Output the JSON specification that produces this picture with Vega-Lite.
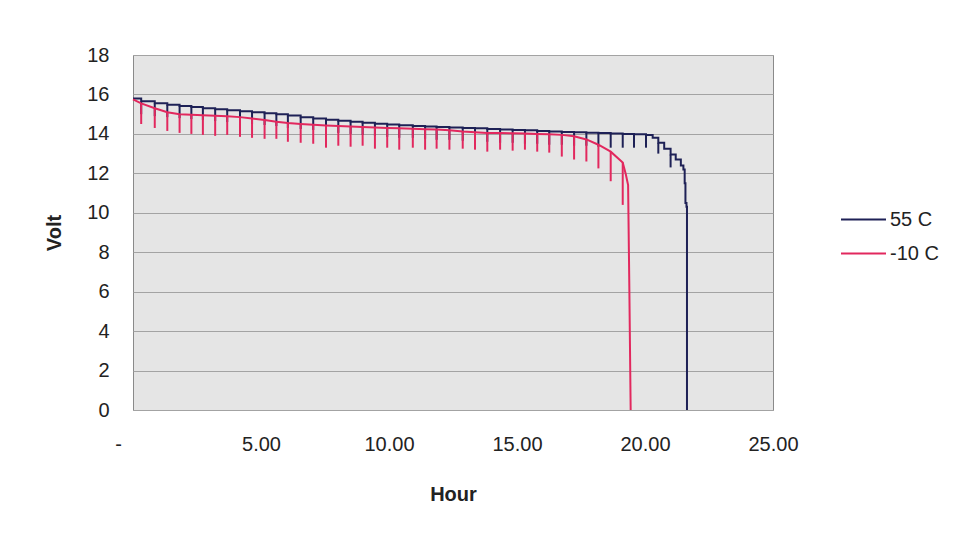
{
  "$schema": "https://vega.github.io/schema/vega-lite/v6.json",
  "autosize": "none",
  "width": 640,
  "height": 355,
  "padding": {"left": 133, "top": 55, "right": 191, "bottom": 127},
  "background": "white",
  "config": {
    "font": "Liberation Sans",
    "view": {"fill": "#e5e5e5", "stroke": "#8a8a8a", "strokeWidth": 1},
    "axis": {"labelFont": "Liberation Sans", "titleFont": "Liberation Sans", "labelColor": "#222", "titleColor": "#222"}
  },
  "datasets": {
    "levels": [
      {"series": "55 C", "hour": 0, "volt": 15.8},
      {"series": "55 C", "hour": 0.32, "volt": 15.65},
      {"series": "55 C", "hour": 0.85, "volt": 15.55},
      {"series": "55 C", "hour": 1.34, "volt": 15.48},
      {"series": "55 C", "hour": 1.82, "volt": 15.42},
      {"series": "55 C", "hour": 2.28, "volt": 15.36},
      {"series": "55 C", "hour": 2.73, "volt": 15.3},
      {"series": "55 C", "hour": 3.21, "volt": 15.25},
      {"series": "55 C", "hour": 3.68, "volt": 15.2},
      {"series": "55 C", "hour": 4.18, "volt": 15.15},
      {"series": "55 C", "hour": 4.65, "volt": 15.1},
      {"series": "55 C", "hour": 5.14, "volt": 15.05},
      {"series": "55 C", "hour": 5.6, "volt": 15.0},
      {"series": "55 C", "hour": 6.05, "volt": 14.93},
      {"series": "55 C", "hour": 6.55, "volt": 14.85},
      {"series": "55 C", "hour": 7.04, "volt": 14.78},
      {"series": "55 C", "hour": 7.54, "volt": 14.72},
      {"series": "55 C", "hour": 8.02, "volt": 14.66},
      {"series": "55 C", "hour": 8.5, "volt": 14.62},
      {"series": "55 C", "hour": 8.97, "volt": 14.57},
      {"series": "55 C", "hour": 9.45, "volt": 14.52},
      {"series": "55 C", "hour": 9.93, "volt": 14.48},
      {"series": "55 C", "hour": 10.4, "volt": 14.44},
      {"series": "55 C", "hour": 10.93, "volt": 14.4},
      {"series": "55 C", "hour": 11.41, "volt": 14.37},
      {"series": "55 C", "hour": 11.86, "volt": 14.35},
      {"series": "55 C", "hour": 12.36, "volt": 14.33},
      {"series": "55 C", "hour": 12.88, "volt": 14.3},
      {"series": "55 C", "hour": 13.36, "volt": 14.28},
      {"series": "55 C", "hour": 13.84, "volt": 14.25},
      {"series": "55 C", "hour": 14.34, "volt": 14.22},
      {"series": "55 C", "hour": 14.83, "volt": 14.2},
      {"series": "55 C", "hour": 15.31, "volt": 14.18},
      {"series": "55 C", "hour": 15.79, "volt": 14.15},
      {"series": "55 C", "hour": 16.26, "volt": 14.12},
      {"series": "55 C", "hour": 16.75, "volt": 14.1},
      {"series": "55 C", "hour": 17.23, "volt": 14.08},
      {"series": "55 C", "hour": 17.71, "volt": 14.06},
      {"series": "55 C", "hour": 18.18, "volt": 14.04},
      {"series": "55 C", "hour": 18.66, "volt": 14.02},
      {"series": "55 C", "hour": 19.13, "volt": 14.0},
      {"series": "55 C", "hour": 19.57, "volt": 13.98},
      {"series": "55 C", "hour": 20.04, "volt": 13.95},
      {"series": "55 C", "hour": 20.3, "volt": 13.8},
      {"series": "55 C", "hour": 20.52, "volt": 13.55},
      {"series": "55 C", "hour": 20.75, "volt": 13.25},
      {"series": "55 C", "hour": 21.0, "volt": 12.95},
      {"series": "55 C", "hour": 21.2, "volt": 12.7},
      {"series": "55 C", "hour": 21.4, "volt": 12.4},
      {"series": "55 C", "hour": 21.5, "volt": 12.2},
      {"series": "55 C", "hour": 21.55, "volt": 11.5},
      {"series": "55 C", "hour": 21.58, "volt": 10.5},
      {"series": "55 C", "hour": 21.62, "volt": 10.3},
      {"series": "55 C", "hour": 21.64, "volt": 0},
      {"series": "-10 C", "hour": 0, "volt": 15.75},
      {"series": "-10 C", "hour": 0.32, "volt": 15.55},
      {"series": "-10 C", "hour": 0.85, "volt": 15.3},
      {"series": "-10 C", "hour": 1.34, "volt": 15.1},
      {"series": "-10 C", "hour": 1.82, "volt": 15.0},
      {"series": "-10 C", "hour": 2.28, "volt": 14.97},
      {"series": "-10 C", "hour": 2.73, "volt": 14.95},
      {"series": "-10 C", "hour": 3.21, "volt": 14.92},
      {"series": "-10 C", "hour": 3.68, "volt": 14.9},
      {"series": "-10 C", "hour": 4.18, "volt": 14.85},
      {"series": "-10 C", "hour": 4.65, "volt": 14.78},
      {"series": "-10 C", "hour": 5.14, "volt": 14.7},
      {"series": "-10 C", "hour": 5.6, "volt": 14.62},
      {"series": "-10 C", "hour": 6.05, "volt": 14.55},
      {"series": "-10 C", "hour": 6.55, "volt": 14.5},
      {"series": "-10 C", "hour": 7.04, "volt": 14.46},
      {"series": "-10 C", "hour": 7.54, "volt": 14.43},
      {"series": "-10 C", "hour": 8.02, "volt": 14.4},
      {"series": "-10 C", "hour": 8.5, "volt": 14.37},
      {"series": "-10 C", "hour": 8.97, "volt": 14.35},
      {"series": "-10 C", "hour": 9.45, "volt": 14.33},
      {"series": "-10 C", "hour": 9.93, "volt": 14.3},
      {"series": "-10 C", "hour": 10.4, "volt": 14.28},
      {"series": "-10 C", "hour": 10.93, "volt": 14.26},
      {"series": "-10 C", "hour": 11.41, "volt": 14.24},
      {"series": "-10 C", "hour": 11.86, "volt": 14.22},
      {"series": "-10 C", "hour": 12.36, "volt": 14.18},
      {"series": "-10 C", "hour": 12.88, "volt": 14.12},
      {"series": "-10 C", "hour": 13.36, "volt": 14.08},
      {"series": "-10 C", "hour": 13.84, "volt": 14.05},
      {"series": "-10 C", "hour": 14.34, "volt": 14.04},
      {"series": "-10 C", "hour": 14.83, "volt": 14.03},
      {"series": "-10 C", "hour": 15.31, "volt": 14.02},
      {"series": "-10 C", "hour": 15.79, "volt": 14.0},
      {"series": "-10 C", "hour": 16.26, "volt": 13.98},
      {"series": "-10 C", "hour": 16.75, "volt": 13.95},
      {"series": "-10 C", "hour": 17.23, "volt": 13.88},
      {"series": "-10 C", "hour": 17.71, "volt": 13.72},
      {"series": "-10 C", "hour": 18.18, "volt": 13.45},
      {"series": "-10 C", "hour": 18.66, "volt": 13.1},
      {"series": "-10 C", "hour": 19.13, "volt": 12.55},
      {"series": "-10 C", "hour": 19.25, "volt": 11.95},
      {"series": "-10 C", "hour": 19.34, "volt": 11.4},
      {"series": "-10 C", "hour": 19.39, "volt": 6.0},
      {"series": "-10 C", "hour": 19.44, "volt": 0}
    ],
    "spikes": [
      {"series": "55 C", "hour": 0.32, "volt": 15.65, "bottom": 15.0},
      {"series": "55 C", "hour": 0.85, "volt": 15.55, "bottom": 14.9},
      {"series": "55 C", "hour": 1.34, "volt": 15.48, "bottom": 14.85},
      {"series": "55 C", "hour": 1.82, "volt": 15.42, "bottom": 14.8},
      {"series": "55 C", "hour": 2.28, "volt": 15.36, "bottom": 14.75},
      {"series": "55 C", "hour": 2.73, "volt": 15.3, "bottom": 14.7},
      {"series": "55 C", "hour": 3.21, "volt": 15.25, "bottom": 14.65},
      {"series": "55 C", "hour": 3.68, "volt": 15.2, "bottom": 14.6},
      {"series": "55 C", "hour": 4.18, "volt": 15.15, "bottom": 14.55},
      {"series": "55 C", "hour": 4.65, "volt": 15.1, "bottom": 14.5},
      {"series": "55 C", "hour": 5.14, "volt": 15.05, "bottom": 14.45},
      {"series": "55 C", "hour": 5.6, "volt": 15.0, "bottom": 14.4},
      {"series": "55 C", "hour": 6.05, "volt": 14.93, "bottom": 14.3},
      {"series": "55 C", "hour": 6.55, "volt": 14.85, "bottom": 14.25},
      {"series": "55 C", "hour": 7.04, "volt": 14.78, "bottom": 14.2},
      {"series": "55 C", "hour": 7.54, "volt": 14.72, "bottom": 14.1},
      {"series": "55 C", "hour": 8.02, "volt": 14.66, "bottom": 14.05},
      {"series": "55 C", "hour": 8.5, "volt": 14.62, "bottom": 14.0},
      {"series": "55 C", "hour": 8.97, "volt": 14.57, "bottom": 13.95},
      {"series": "55 C", "hour": 9.45, "volt": 14.52, "bottom": 13.9},
      {"series": "55 C", "hour": 9.93, "volt": 14.48, "bottom": 13.85},
      {"series": "55 C", "hour": 10.4, "volt": 14.44, "bottom": 13.8},
      {"series": "55 C", "hour": 10.93, "volt": 14.4, "bottom": 13.8},
      {"series": "55 C", "hour": 11.41, "volt": 14.37, "bottom": 13.75},
      {"series": "55 C", "hour": 11.86, "volt": 14.35, "bottom": 13.7},
      {"series": "55 C", "hour": 12.36, "volt": 14.33, "bottom": 13.7},
      {"series": "55 C", "hour": 12.88, "volt": 14.3, "bottom": 13.65},
      {"series": "55 C", "hour": 13.36, "volt": 14.28, "bottom": 13.6},
      {"series": "55 C", "hour": 13.84, "volt": 14.25, "bottom": 13.6},
      {"series": "55 C", "hour": 14.34, "volt": 14.22, "bottom": 13.55},
      {"series": "55 C", "hour": 14.83, "volt": 14.2, "bottom": 13.55},
      {"series": "55 C", "hour": 15.31, "volt": 14.18, "bottom": 13.5},
      {"series": "55 C", "hour": 15.79, "volt": 14.15, "bottom": 13.5},
      {"series": "55 C", "hour": 16.26, "volt": 14.12, "bottom": 13.45},
      {"series": "55 C", "hour": 16.75, "volt": 14.1, "bottom": 13.45},
      {"series": "55 C", "hour": 17.23, "volt": 14.08, "bottom": 13.4},
      {"series": "55 C", "hour": 17.71, "volt": 14.06, "bottom": 13.4},
      {"series": "55 C", "hour": 18.18, "volt": 14.04, "bottom": 13.35},
      {"series": "55 C", "hour": 18.66, "volt": 14.02, "bottom": 13.3},
      {"series": "55 C", "hour": 19.13, "volt": 14.0, "bottom": 13.3},
      {"series": "55 C", "hour": 19.57, "volt": 13.98, "bottom": 13.3},
      {"series": "55 C", "hour": 20.04, "volt": 13.95, "bottom": 13.3},
      {"series": "55 C", "hour": 20.52, "volt": 13.55, "bottom": 13.0},
      {"series": "55 C", "hour": 21.0, "volt": 12.95, "bottom": 12.3},
      {"series": "-10 C", "hour": 0.32, "volt": 15.55, "bottom": 14.5},
      {"series": "-10 C", "hour": 0.85, "volt": 15.3, "bottom": 14.3},
      {"series": "-10 C", "hour": 1.34, "volt": 15.1, "bottom": 14.15},
      {"series": "-10 C", "hour": 1.82, "volt": 15.0, "bottom": 14.05},
      {"series": "-10 C", "hour": 2.28, "volt": 14.97, "bottom": 14.0},
      {"series": "-10 C", "hour": 2.73, "volt": 14.95, "bottom": 13.95},
      {"series": "-10 C", "hour": 3.21, "volt": 14.92, "bottom": 13.9},
      {"series": "-10 C", "hour": 3.68, "volt": 14.9, "bottom": 13.95},
      {"series": "-10 C", "hour": 4.18, "volt": 14.85, "bottom": 13.85},
      {"series": "-10 C", "hour": 4.65, "volt": 14.78, "bottom": 13.8},
      {"series": "-10 C", "hour": 5.14, "volt": 14.7, "bottom": 13.75},
      {"series": "-10 C", "hour": 5.6, "volt": 14.62, "bottom": 13.75},
      {"series": "-10 C", "hour": 6.05, "volt": 14.55, "bottom": 13.6},
      {"series": "-10 C", "hour": 6.55, "volt": 14.5, "bottom": 13.55},
      {"series": "-10 C", "hour": 7.04, "volt": 14.46, "bottom": 13.5},
      {"series": "-10 C", "hour": 7.54, "volt": 14.43, "bottom": 13.3},
      {"series": "-10 C", "hour": 8.02, "volt": 14.4, "bottom": 13.4},
      {"series": "-10 C", "hour": 8.5, "volt": 14.37, "bottom": 13.35},
      {"series": "-10 C", "hour": 8.97, "volt": 14.35, "bottom": 13.4},
      {"series": "-10 C", "hour": 9.45, "volt": 14.33, "bottom": 13.25},
      {"series": "-10 C", "hour": 9.93, "volt": 14.3, "bottom": 13.3},
      {"series": "-10 C", "hour": 10.4, "volt": 14.28, "bottom": 13.2},
      {"series": "-10 C", "hour": 10.93, "volt": 14.26, "bottom": 13.3},
      {"series": "-10 C", "hour": 11.41, "volt": 14.24, "bottom": 13.2},
      {"series": "-10 C", "hour": 11.86, "volt": 14.22, "bottom": 13.25},
      {"series": "-10 C", "hour": 12.36, "volt": 14.18, "bottom": 13.2},
      {"series": "-10 C", "hour": 12.88, "volt": 14.12, "bottom": 13.25},
      {"series": "-10 C", "hour": 13.36, "volt": 14.08, "bottom": 13.2},
      {"series": "-10 C", "hour": 13.84, "volt": 14.05, "bottom": 13.1},
      {"series": "-10 C", "hour": 14.34, "volt": 14.04, "bottom": 13.2},
      {"series": "-10 C", "hour": 14.83, "volt": 14.03, "bottom": 13.15},
      {"series": "-10 C", "hour": 15.31, "volt": 14.02, "bottom": 13.2},
      {"series": "-10 C", "hour": 15.79, "volt": 14.0, "bottom": 13.1},
      {"series": "-10 C", "hour": 16.26, "volt": 13.98, "bottom": 13.05},
      {"series": "-10 C", "hour": 16.75, "volt": 13.95, "bottom": 12.85},
      {"series": "-10 C", "hour": 17.23, "volt": 13.88, "bottom": 12.7},
      {"series": "-10 C", "hour": 17.71, "volt": 13.72, "bottom": 12.6},
      {"series": "-10 C", "hour": 18.18, "volt": 13.45, "bottom": 12.25},
      {"series": "-10 C", "hour": 18.66, "volt": 13.1, "bottom": 11.6},
      {"series": "-10 C", "hour": 19.13, "volt": 12.55, "bottom": 10.4}
    ]
  },
  "encoding": {
    "x": {
      "field": "hour", "type": "quantitative",
      "scale": {"domain": [0, 25], "nice": false, "zero": false},
      "axis": {
        "title": "Hour", "values": [0, 5, 10, 15, 20, 25],
        "labelExpr": "datum.value == 0 ? '-' : format(datum.value, '.2f')",
        "labelFlush": false, "labelOverlap": false,
        "ticks": false, "domain": false, "grid": false,
        "labelFontSize": 20, "labelPadding": 24,
        "labelOffset": {"condition": {"test": "datum.value == 0", "value": -15}, "value": 0},
        "titleFontSize": 20, "titleFontWeight": "bold", "titlePadding": 30
      }
    },
    "y": {
      "field": "volt", "type": "quantitative",
      "scale": {"domain": [0, 18], "nice": false},
      "axis": {
        "title": "Volt", "values": [0, 2, 4, 6, 8, 10, 12, 14, 16, 18],
        "labelOverlap": false, "labelFlush": false,
        "ticks": false, "domain": false, "grid": true, "gridColor": "#a3a3a3", "gridWidth": 1,
        "labelFontSize": 20, "labelPadding": 24,
        "titleFontSize": 20, "titleFontWeight": "bold", "titlePadding": 22
      }
    },
    "color": {
      "field": "series", "type": "nominal",
      "scale": {"domain": ["55 C", "-10 C"], "range": ["#1e2156", "#e2285e"]},
      "legend": {
        "title": null, "orient": "none", "legendX": 707, "legendY": 141,
        "symbolType": "stroke", "symbolSize": 2025, "symbolStrokeWidth": 2,
        "labelFontSize": 20, "labelFont": "Liberation Sans", "labelColor": "#222",
        "rowPadding": -7, "labelOffset": 3, "padding": 0
      }
    }
  },
  "layer": [
    {
      "data": {"name": "levels"},
      "transform": [{"filter": "datum.series == '55 C'"}],
      "mark": {"type": "line", "interpolate": "step-after", "strokeWidth": 2}
    },
    {
      "data": {"name": "spikes"},
      "transform": [{"filter": "datum.series == '55 C'"}],
      "mark": {"type": "rule", "strokeWidth": 2},
      "encoding": {"y2": {"field": "bottom"}}
    },
    {
      "data": {"name": "levels"},
      "transform": [{"filter": "datum.series == '-10 C'"}],
      "mark": {"type": "line", "strokeWidth": 2}
    },
    {
      "data": {"name": "spikes"},
      "transform": [{"filter": "datum.series == '-10 C'"}],
      "mark": {"type": "rule", "strokeWidth": 2},
      "encoding": {"y2": {"field": "bottom"}}
    }
  ]
}
